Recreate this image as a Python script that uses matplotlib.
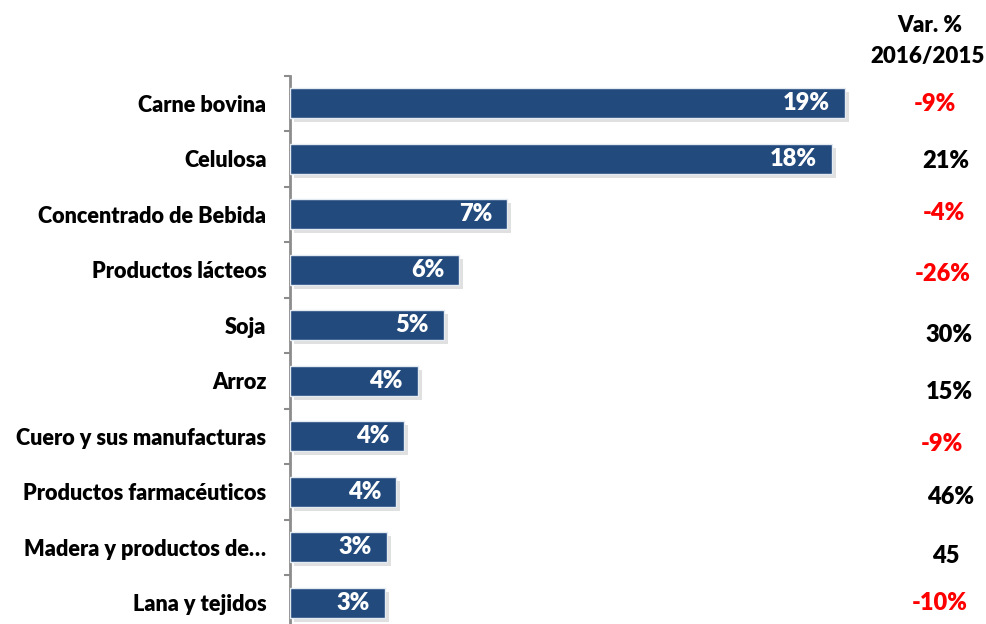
import matplotlib
matplotlib.use("Agg")
import matplotlib.pyplot as plt
import matplotlib.patheffects as pe
import numpy as np

plt.rcParams['font.family'] = ['Lato', 'DejaVu Sans']

# data
categorias = ["Carne bovina", "Celulosa", "Concentrado de Bebida", "Productos lácteos",
              "Soja", "Arroz", "Cuero y sus manufacturas", "Productos farmacéuticos",
              "Madera y productos de…", "Lana y tejidos"]
participacion = [18.75, 18.31, 7.33, 5.71, 5.20, 4.32, 3.85, 3.58, 3.28, 3.21]
var_labels = ["-9%", "21%", "-4%", "-26%", "30%", "15%", "-9%", "46%", "45", "-10%"]
var_negativa = [True, False, True, True, False, False, True, False, False, True]

# small vertical shifts (px) of the var column, as in the original slide
var_dy = [-1, -2, 1, -4, -10, -11, -8, -5, -9, 0]
var_dx = [-10, 1, -1, -2, 4, 4, -3, 6, 1, -5]

BAR_COL = "#224a7c"
W, H = 986, 624
FS = 15.6
FW = "heavy"

fig = plt.figure(figsize=(W / 100, H / 100), dpi=100)
ax = fig.add_axes([290 / W, 1 - 630.5 / H, 592 / W, 555 / H])

y = np.arange(len(categorias))
bars = ax.barh(y, participacion, height=0.54, color=BAR_COL, edgecolor="#e4eaf2",
               linewidth=1.0, zorder=3)
for b in bars:
    b.set_path_effects([pe.SimplePatchShadow(offset=(3, -3), shadow_rgbFace="#9a9a9a", alpha=0.3),
                        pe.Normal()])

ax.set_xlim(0, 20)
ax.set_ylim(len(categorias) - 0.5, -0.5)

# value labels inside bars
for i, v in enumerate(participacion):
    ax.annotate(f"{round(v)}%", xy=(v, i), xytext=(-15, 0), textcoords="offset pixels",
                ha="right", va="center", color="white", fontsize=17, fontweight=FW, zorder=4)

# axis look
for s in ["top", "right", "bottom"]:
    ax.spines[s].set_visible(False)
ax.spines["left"].set_color("#8c8c8c")
ax.spines["left"].set_linewidth(2)
ax.set_xticks([])
ax.set_yticks(y)
ax.set_yticklabels(categorias, fontsize=FS, fontweight=FW)
ax.tick_params(axis="y", which="major", length=0, pad=17)
ax.set_yticks(np.arange(-0.5, len(categorias), 1), minor=True)
ax.tick_params(axis="y", which="minor", length=4, width=1.5, color="#8c8c8c", direction="out")

# right column: variation 2016/2015
fig.text(930 / W, 1 - 26 / H, "Var. %", ha="center", va="center", fontsize=16, fontweight=FW)
fig.text(928 / W, 1 - 57 / H, "2016/2015", ha="center", va="center", fontsize=16, fontweight=FW)
for i, lab in enumerate(var_labels):
    ax.annotate(lab, xy=(945 / W, i), xycoords=(fig.transFigure, "data"),
                xytext=(var_dx[i], var_dy[i]), textcoords="offset pixels",
                ha="center", va="center", fontsize=17, fontweight=FW,
                color="#ff0000" if var_negativa[i] else "black")

fig.savefig("out.png", dpi=100)
